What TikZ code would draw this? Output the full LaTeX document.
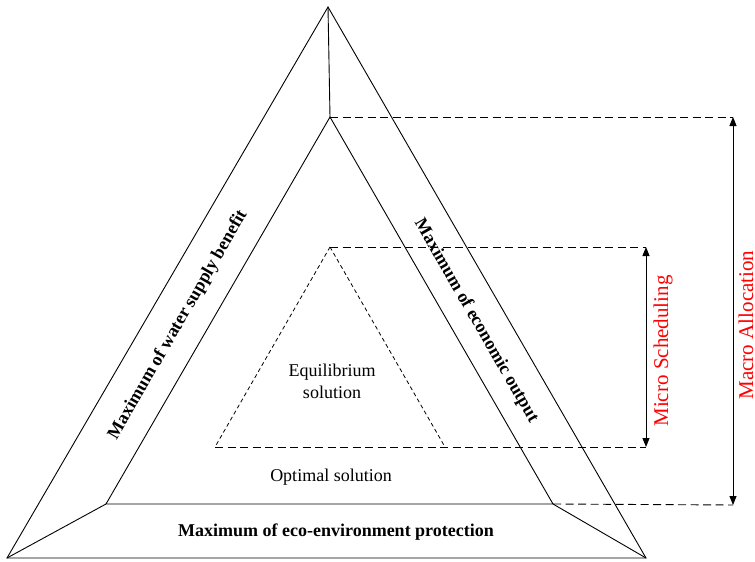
\documentclass[tikz,border=0pt]{standalone}
\usepackage{fontspec}
\setmainfont{Liberation Serif}
\usetikzlibrary{arrows.meta}
\begin{document}
\begin{tikzpicture}[x=1pt,y=-1pt,
  solidline/.style={line width=0.9pt,black},
  longdash/.style={line width=0.9pt,dash pattern=on 8pt off 4.5pt},
  shortdash/.style={line width=0.8pt,dash pattern=on 4pt off 3pt},
  dimarrow/.style={line width=0.9pt,{Triangle[length=9pt,width=7pt]}-{Triangle[length=9pt,width=7pt]}},
  lbl/.style={font=\fontsize{18}{22}\selectfont\bfseries,inner sep=0pt},
  plain/.style={font=\fontsize{18}{22}\selectfont,inner sep=0pt,align=center},
  redlbl/.style={font=\fontsize{21}{24}\selectfont,text=red,inner sep=0pt,rotate=90}]
\useasboundingbox (0,0) rectangle (755,562);
% outer triangle
\coordinate (OT) at (328,7);
\coordinate (OL) at (7,558);
\coordinate (OR) at (646,558);
% inner triangle
\coordinate (IT) at (330,117);
\coordinate (IL) at (106,504);
\coordinate (IR) at (553,504);
% dashed triangle
\coordinate (DT) at (330,247);
\coordinate (DL) at (215,447);
\coordinate (DR) at (445,447);
% right-hand ends
\coordinate (MaTop) at (733,117);
\coordinate (MaBot) at (733,505);
\coordinate (MiTop) at (646,247);
\coordinate (MiBot) at (646,447);

\draw[solidline] (OT) -- (OL) -- (OR) -- cycle;
\draw[solidline] (IT) -- (IL) -- (IR) -- cycle;
\draw[solidline] (OT) -- (IT);
\draw[solidline] (OL) -- (IL);
\draw[solidline] (OR) -- (IR);
\draw[shortdash] (DT) -- (DL);
\draw[shortdash] (DT) -- (DR);
\draw[longdash] (DL) -- (MiBot);
\draw[longdash] (DT) -- (MiTop);
\draw[longdash] (IT) -- (MaTop);
\draw[longdash] (IR) -- (MaBot);
\draw[dimarrow] (MiTop) -- (MiBot);
\draw[dimarrow] (MaTop) -- (MaBot);

\node[lbl] (water) at (178,325) [rotate=60] {Maximum of water supply benefit};
\node[lbl] (econ) at (476,321) [rotate=-60] {Maximum of economic output};
\node[lbl] (eco) at (336,532) {Maximum of eco-environment protection};
\node[plain] (opt) at (331,477) {Optimal solution};
\node[plain] (eq) at (332,381) {Equilibrium\\solution};
\node[redlbl] (micro) at (663,351) {Micro Scheduling};
\node[redlbl] (macro) at (746,325) {Macro Allocation};
\end{tikzpicture}
\end{document}
